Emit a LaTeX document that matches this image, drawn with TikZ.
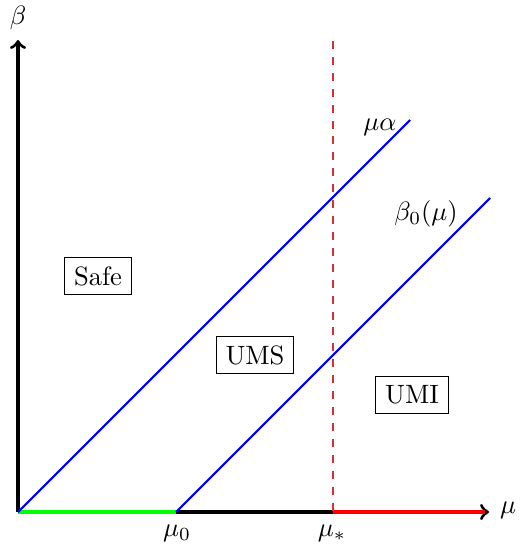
\documentclass[tikz,border=0pt]{standalone}
\begin{document}
\begin{tikzpicture}[x=0.377pt,y=-0.377pt,
  axis/.style={very thick,->},
  bline/.style={blue,thick},
  seg/.style={line width=1.5pt},
  region/.style={draw,thin,inner sep=3.5pt},
  lbl/.style={inner sep=0pt}]
\useasboundingbox (0,0) rectangle (519,548);
\coordinate (O) at (18,512);
\coordinate (ytop) at (18,40);
\coordinate (xend) at (489,512);
\coordinate (m0) at (176,512);
\coordinate (ms) at (333,512);
\coordinate (rend) at (485,512);
\coordinate (mstop) at (333,41);
\coordinate (a1) at (410,120);
\coordinate (b1) at (490,198);
% axes
\draw[axis] (O) -- (ytop);
\draw[axis] (O) -- (xend);
% coloured segments
\draw[seg,red] (ms) -- (rend);
\draw[seg,green] (O) -- (m0);
% dashed
\draw[red!80!black!80,dashed,thin] (mstop) -- (ms);
% blue lines
\draw[bline] (O) -- (a1);
\draw[bline] (m0) -- (b1);
% labels
\node[lbl] (beta) at (18,18) {$\beta$};
\node[lbl] (mu) at (508,510) {$\mu$};
\node[lbl] (mu0) at (177,533) {$\mu_0$};
\node[lbl] (mus) at (332,533) {$\mu_*$};
\node[lbl] (mual) at (380,127) {$\mu\alpha$};
\node[lbl] (b0) at (426,214) {$\beta_0(\mu)$};
\node[region] (safe) at (98,276) {Safe};
\node[region] (ums) at (255,355) {UMS};
\node[region] (umi) at (412,395) {UMI};
\end{tikzpicture}
\end{document}
